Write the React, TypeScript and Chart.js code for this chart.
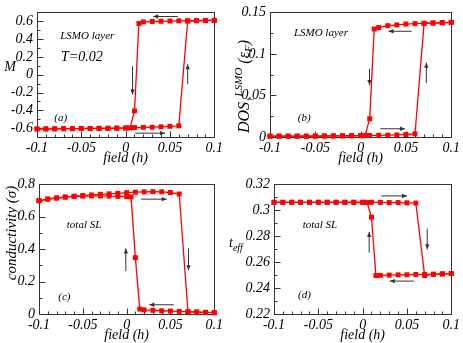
import React, { useEffect, useRef } from "react";
import { Chart, registerables } from "chart.js";
Chart.register(...registerables);

// ---------- data ----------
const fieldUp = [-0.1, -0.09, -0.08, -0.07, -0.06, -0.05, -0.04, -0.03, -0.02, -0.01, 0, 0.01, 0.02, 0.03, 0.04, 0.05, 0.06, 0.07, 0.08, 0.09, 0.1];
const fieldDown = [0.1, 0.09, 0.08, 0.07, 0.06, 0.05, 0.04, 0.03, 0.02, 0.015, 0.01, 0.005, 0, -0.01, -0.02, -0.03, -0.04, -0.05, -0.06, -0.07, -0.08, -0.09, -0.1];

const magUp = [-0.61, -0.609, -0.608, -0.607, -0.606, -0.605, -0.604, -0.603, -0.602, -0.6, -0.598, -0.594, -0.592, -0.59, -0.586, -0.58, -0.575, 0.603, 0.606, 0.608, 0.61];
const magDown = [0.61, 0.61, 0.608, 0.606, 0.605, 0.603, 0.6, 0.598, 0.593, 0.575, -0.407, -0.598, -0.6, -0.601, -0.602, -0.603, -0.604, -0.605, -0.606, -0.607, -0.608, -0.609, -0.61];

const dosUp = [0.001, 0.001, 0.001, 0.001, 0.001, 0.001, 0.0012, 0.0013, 0.0014, 0.0015, 0.0016, 0.0018, 0.002, 0.0022, 0.0025, 0.003, 0.0038, 0.1365, 0.137, 0.1375, 0.138];
const dosDown = [0.138, 0.1378, 0.1375, 0.137, 0.1365, 0.136, 0.135, 0.134, 0.1318, 0.13, 0.022, 0.002, 0.0016, 0.0015, 0.0014, 0.0013, 0.0012, 0.0011, 0.001, 0.001, 0.001, 0.001, 0.001];

const condUp = [0.699, 0.71, 0.716, 0.722, 0.727, 0.731, 0.735, 0.739, 0.742, 0.745, 0.749, 0.752, 0.754, 0.755, 0.754, 0.75, 0.741, 0.014, 0.012, 0.01, 0.008];
const condDown = [0.008, 0.01, 0.012, 0.014, 0.016, 0.018, 0.02, 0.023, 0.026, 0.03, 0.348, 0.723, 0.724, 0.726, 0.728, 0.729, 0.729, 0.728, 0.726, 0.722, 0.716, 0.709, 0.699];

const teffUp = [0.3062, 0.3062, 0.3062, 0.3062, 0.3062, 0.3062, 0.3062, 0.3062, 0.3062, 0.3062, 0.3062, 0.3062, 0.3061, 0.306, 0.306, 0.3058, 0.3056, 0.2496, 0.2505, 0.2509, 0.2512];
const teffDown = [0.2512, 0.251, 0.2508, 0.2506, 0.2505, 0.2503, 0.2502, 0.25, 0.2498, 0.2496, 0.2947, 0.306, 0.3062, 0.3062, 0.3062, 0.3062, 0.3062, 0.3062, 0.3062, 0.3062, 0.3062, 0.3062, 0.3062];

// ---------- ticks ----------
const fieldTicks = [-0.1, -0.05, 0, 0.05, 0.1];
const fieldTickLabels = ["-0.1", "-0.05", "0", "0.05", "0.1"];
const magTicks = [-0.6, -0.4, -0.2, 0, 0.2, 0.4, 0.6];
const magTickLabels = ["-0.6", "-0.4", "-0.2", "0", "0.2", "0.4", "0.6"];
const dosTicks = [0, 0.05, 0.1, 0.15];
const dosTickLabels = ["0", "0.05", "0.1", "0.15"];
const condTicks = [0, 0.2, 0.4, 0.6, 0.8];
const condTickLabels = ["0", "0.2", "0.4", "0.6", "0.8"];
const teffTicks = [0.22, 0.24, 0.26, 0.28, 0.3, 0.32];
const teffTickLabels = ["0.22", "0.24", "0.26", "0.28", "0.3", "0.32"];

const FAMILY = "'Liberation Serif','Times New Roman',serif";
const fnt = (s: number) => `italic ${s}px ${FAMILY}`;

type Part = { t: string; s: number; dy: number };
type Label = { x: number; y: number; text: string; size: number };
type Arrow = [number, number, number, number];

interface Panel {
  left: number; top: number; width: number; height: number;
  plotLeft: number; plotRight: number; plotTop: number; plotBottom: number;
  yMin: number; yMax: number; yTicks: number[]; yLabels: string[]; yMinor: number;
  up: number[]; down: number[];
  labels: Label[]; arrows: Arrow[];
  yTitle: { dx: number; y: number; parts: Part[]; rotate: boolean; center?: boolean };
}

const panels: Panel[] = [
  {
    left: 0, top: 0, width: 226, height: 172,
    plotLeft: 37, plotRight: 217, plotTop: 5, plotBottom: 137,
    yMin: -0.7, yMax: 0.7, yTicks: magTicks, yLabels: magTickLabels, yMinor: 0.1,
    up: magUp, down: magDown,
    labels: [
      { x: -0.0433, y: 0.435, text: "LSMO layer", size: 11 },
      { x: -0.0494, y: 0.191, text: "T=0.02", size: 14 },
      { x: -0.0733, y: -0.488, text: "(a)", size: 11 },
    ],
    arrows: [
      [0.0589, 0.654, 0.0311, 0.654],
      [0.0078, 0.096, 0.0078, -0.223],
      [0.07, -0.106, 0.07, 0.117],
      [0.011, -0.657, 0.0444, -0.657],
    ],
    yTitle: { dx: -27, y: 71, parts: [{ t: "M", s: 14, dy: 0 }], rotate: false, center: true },
  },
  {
    left: 226, top: 0, width: 237, height: 172,
    plotLeft: 44, plotRight: 228, plotTop: 5, plotBottom: 137,
    yMin: 0, yMax: 0.15, yTicks: dosTicks, yLabels: dosTickLabels, yMinor: 0.025,
    up: dosUp, down: dosDown,
    labels: [
      { x: -0.0438, y: 0.1253, text: "LSMO layer", size: 11 },
      { x: -0.0623, y: 0.0231, text: "(b)", size: 11 },
    ],
    arrows: [
      [0.0562, 0.1273, 0.0308, 0.1273],
      [0.0098, 0.082, 0.0098, 0.0625],
      [0.0725, 0.0648, 0.0725, 0.0894],
      [0.0217, 0.0099, 0.0489, 0.0099],
    ],
    yTitle: {
      dx: -21, y: 133, rotate: true,
      parts: [
        { t: "DOS", s: 16, dy: 0 },
        { t: "↑", s: 11, dy: 4 },
        { t: "LSMO", s: 11, dy: -7 },
        { t: " (ε", s: 16, dy: 0 },
        { t: "F", s: 11, dy: 3 },
        { t: ")", s: 16, dy: 0 },
      ],
    },
  },
  {
    left: 0, top: 172, width: 226, height: 171,
    plotLeft: 39, plotRight: 218, plotTop: 10, plotBottom: 142,
    yMin: 0, yMax: 0.8, yTicks: condTicks, yLabels: condTickLabels, yMinor: 0.1,
    up: condUp, down: condDown,
    labels: [
      { x: -0.0486, y: 0.547, text: "total SL", size: 11 },
      { x: -0.071, y: 0.107, text: "(c)", size: 11 },
    ],
    arrows: [
      [0.0166, 0.709, 0.0457, 0.709],
      [-0.0009, 0.264, -0.0009, 0.405],
      [0.0706, 0.405, 0.0706, 0.27],
      [0.0538, 0.057, 0.0259, 0.057],
    ],
    yTitle: { dx: -23, y: 61, rotate: true, center: true, parts: [{ t: "conductivity (σ)", s: 15, dy: 0 }] },
  },
  {
    left: 226, top: 172, width: 237, height: 171,
    plotLeft: 48, plotRight: 228, plotTop: 10, plotBottom: 142,
    yMin: 0.22, yMax: 0.32, yTicks: teffTicks, yLabels: teffTickLabels, yMinor: 0.01,
    up: teffUp, down: teffDown,
    labels: [
      { x: -0.0482, y: 0.2883, text: "total SL", size: 11 },
      { x: -0.0656, y: 0.2344, text: "(d)", size: 11 },
    ],
    arrows: [
      [0.0211, 0.3111, 0.05, 0.3111],
      [0.0074, 0.2674, 0.0074, 0.2833],
      [0.0729, 0.2858, 0.0729, 0.2699],
      [0.0581, 0.2454, 0.0307, 0.2454],
    ],
    yTitle: { dx: -45, y: 75, rotate: false, parts: [{ t: "t", s: 14, dy: 0 }, { t: "eff", s: 10, dy: 4 }] },
  },
];

function drawParts(ctx: CanvasRenderingContext2D, x: number, y: number, parts: Part[], rotate: boolean, center: boolean) {
  ctx.save();
  ctx.fillStyle = "#000";
  ctx.textBaseline = "alphabetic";
  ctx.textAlign = "left";
  let total = 0;
  for (const p of parts) { ctx.font = fnt(p.s); total += ctx.measureText(p.t).width; }
  ctx.translate(x, y);
  if (rotate) ctx.rotate(-Math.PI / 2);
  let cx = center ? -total / 2 : 0;
  for (const p of parts) {
    ctx.font = fnt(p.s);
    ctx.fillText(p.t, cx, p.dy);
    cx += ctx.measureText(p.t).width;
  }
  ctx.restore();
}

function makePlugin(p: Panel) {
  return {
    id: "deco",
    beforeDatasetsDraw(chart: any) {
      const { ctx, chartArea: a, scales } = chart;
      const xs = scales.x, ys = scales.y;
      ctx.save();
      ctx.strokeStyle = "#333";
      ctx.lineWidth = 1;
      const L = Math.round(a.left) + 0.5, R = Math.round(a.right) + 0.5, T = Math.round(a.top) + 0.5, B = Math.round(a.bottom) + 0.5;
      ctx.strokeRect(L, T, R - L, B - T);
      ctx.beginPath();
      for (let k = -9; k <= 9; k++) {
        const px = Math.round(xs.getPixelForValue(k / 100)) + 0.5;
        const len = k % 5 === 0 ? 6 : 3;
        ctx.moveTo(px, B); ctx.lineTo(px, B - len);
      }
      const n = Math.round((p.yMax - p.yMin) / p.yMinor);
      for (let i = 1; i < n; i++) {
        const v = p.yMin + i * p.yMinor;
        const major = p.yTicks.some((t) => Math.abs(t - v) < 1e-6);
        const py = Math.round(ys.getPixelForValue(v)) + 0.5;
        ctx.moveTo(L, py); ctx.lineTo(L + (major ? 6 : 3), py);
      }
      ctx.stroke();
      ctx.restore();
    },
    afterDraw(chart: any) {
      const { ctx, chartArea: a, scales } = chart;
      const xs = scales.x, ys = scales.y;
      ctx.save();
      ctx.fillStyle = "#000";
      ctx.textAlign = "center";
      ctx.textBaseline = "middle";
      for (const l of p.labels) {
        ctx.font = fnt(l.size);
        ctx.fillText(l.text, xs.getPixelForValue(l.x), ys.getPixelForValue(l.y));
      }
      ctx.font = fnt(14);
      ctx.fillText("field (h)", (a.left + a.right) / 2, a.bottom + 21);
      // arrows
      ctx.strokeStyle = "#333";
      ctx.fillStyle = "#333";
      ctx.lineWidth = 1;
      for (const [x1, y1, x2, y2] of p.arrows) {
        const X1 = xs.getPixelForValue(x1), Y1 = ys.getPixelForValue(y1);
        const X2 = xs.getPixelForValue(x2), Y2 = ys.getPixelForValue(y2);
        const ang = Math.atan2(Y2 - Y1, X2 - X1);
        ctx.beginPath(); ctx.moveTo(X1, Y1); ctx.lineTo(X2, Y2); ctx.stroke();
        const hl = 5, hw = 2.2;
        ctx.beginPath();
        ctx.moveTo(X2, Y2);
        ctx.lineTo(X2 - hl * Math.cos(ang) + hw * Math.sin(ang), Y2 - hl * Math.sin(ang) - hw * Math.cos(ang));
        ctx.lineTo(X2 - hl * Math.cos(ang) - hw * Math.sin(ang), Y2 - hl * Math.sin(ang) + hw * Math.cos(ang));
        ctx.closePath(); ctx.fill();
      }
      ctx.restore();
      const yt = p.yTitle;
      drawParts(ctx, a.left + yt.dx, yt.y, yt.parts, yt.rotate, !!yt.center);
    },
  };
}

function tickCb(ticks: number[], labels: string[]) {
  return (v: any) => {
    const i = ticks.findIndex((t) => Math.abs(t - Number(v)) < 1e-9);
    return i >= 0 ? labels[i] : "";
  };
}

function PanelChart({ p }: { p: Panel }) {
  const ref = useRef<HTMLCanvasElement>(null);
  useEffect(() => {
    const ds = (xv: number[], yv: number[]) => ({
      data: xv.map((x, i) => ({ x, y: yv[i] })),
      borderColor: "#ff0000",
      backgroundColor: "#ff0000",
      borderWidth: 1.3,
      pointStyle: "rect",
      pointRadius: 3.5,
      pointBorderWidth: 0,
      showLine: true,
      tension: 0,
      clip: false,
    });
    const tickFont = { family: FAMILY, size: 14, style: "italic" as const };
    const chart = new Chart(ref.current!, {
      type: "scatter",
      data: { datasets: [ds(fieldUp, p.up), ds(fieldDown, p.down)] as any },
      options: {
        animation: false,
        responsive: false,
        maintainAspectRatio: false,
        devicePixelRatio: 1,
        events: [],
        layout: { padding: { left: 0, top: p.plotTop, right: p.width - p.plotRight, bottom: 0 } },
        plugins: { legend: { display: false }, tooltip: { enabled: false } },
        scales: {
          x: {
            type: "linear", min: -0.1, max: 0.1,
            grid: { display: false, drawTicks: false },
            border: { display: false },
            afterBuildTicks: (s: any) => { s.ticks = fieldTicks.map((v) => ({ value: v })); },
            afterFit: (s: any) => { s.height = p.height - p.plotBottom; },
            ticks: { callback: tickCb(fieldTicks, fieldTickLabels), font: tickFont, color: "#000", padding: 3, autoSkip: false, maxRotation: 0, minRotation: 0 },
          },
          y: {
            type: "linear", min: p.yMin, max: p.yMax,
            grid: { display: false, drawTicks: false },
            border: { display: false },
            afterBuildTicks: (s: any) => { s.ticks = p.yTicks.map((v) => ({ value: v })); },
            afterFit: (s: any) => { s.width = p.plotLeft; },
            ticks: { callback: tickCb(p.yTicks, p.yLabels), font: tickFont, color: "#000", padding: 4, autoSkip: false },
          },
        },
      } as any,
      plugins: [makePlugin(p)],
    });
    return () => chart.destroy();
  }, []);
  return (
    <canvas
      ref={ref}
      width={p.width}
      height={p.height}
      style={{ position: "absolute", left: p.left, top: p.top, width: p.width, height: p.height }}
    />
  );
}

export default function App() {
  return (
    <div style={{ position: "absolute", left: 0, top: 0, width: 463, height: 343, background: "#fff", overflow: "hidden" }}>
      {panels.map((p, i) => (
        <PanelChart key={i} p={p} />
      ))}
    </div>
  );
}
